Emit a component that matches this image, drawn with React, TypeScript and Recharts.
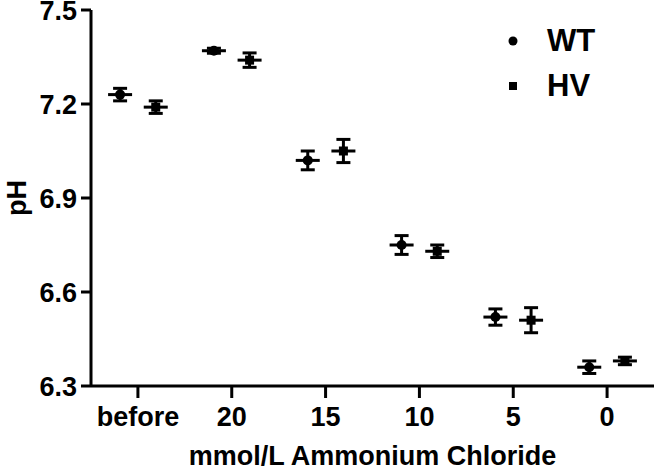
import React from 'react';
import { ScatterChart, Scatter, XAxis, YAxis, ErrorBar, Legend } from 'recharts';

const categories = ['before', '20', '15', '10', '5', '0'];
const wtMean = [7.23, 7.37, 7.02, 6.75, 6.52, 6.36];
const wtSem = [0.02, 0.008, 0.03, 0.03, 0.026, 0.02];
const hvMean = [7.19, 7.34, 7.05, 6.73, 6.51, 6.38];
const hvSem = [0.02, 0.023, 0.037, 0.02, 0.04, 0.012];
const yTicks = [6.3, 6.6, 6.9, 7.2, 7.5];
const seriesNames = ['WT', 'HV'];

const groupOffset = 0.19;
const xTicks = categories.map((_, i) => i);

const wtData = categories.map((c, i) => ({ x: i - groupOffset, y: wtMean[i], err: wtSem[i], cat: c }));
const hvData = categories.map((c, i) => ({ x: i + groupOffset, y: hvMean[i], err: hvSem[i], cat: c }));

const FONT = '"Liberation Sans", Arial, Helvetica, sans-serif';
const textStyle = { fill: '#000', fontSize: 27, fontWeight: 'bold', fontFamily: FONT } as const;

const CircleShape = (props: any) => {
  const { cx, cy } = props;
  return (
    <g>
      <line x1={cx - 12} x2={cx + 12} y1={cy} y2={cy} stroke="#000" strokeWidth={3} />
      <circle cx={cx} cy={cy} r={5} fill="#000" />
    </g>
  );
};

const SquareShape = (props: any) => {
  const { cx, cy } = props;
  return (
    <g>
      <line x1={cx - 12} x2={cx + 12} y1={cy} y2={cy} stroke="#000" strokeWidth={3} />
      <rect x={cx - 4.5} y={cy - 4.5} width={9} height={9} fill="#000" />
    </g>
  );
};

const LegendContent = () => (
  <div style={{ fontFamily: FONT, fontWeight: 'bold', fontSize: 31, color: '#000' }}>
    {seriesNames.map((name, i) => (
      <div key={name} style={{ display: 'flex', alignItems: 'center', height: 45 }}>
        <svg width={16} height={16} style={{ display: 'block' }}>
          {i === 0 ? <circle cx={8} cy={8} r={4.5} fill="#000" /> : <rect x={4} y={4} width={8} height={8} fill="#000" />}
        </svg>
        <span style={{ marginLeft: 26, lineHeight: '45px' }}>{name}</span>
      </div>
    ))}
  </div>
);

export default function App() {
  return (
    <div style={{ position: 'absolute', left: 0, top: 0, width: 655, height: 466, background: '#fff' }}>
      <ScatterChart width={655} height={466} margin={{ top: 10, right: 1, bottom: 0, left: 0 }}>
        <XAxis
          type="number"
          dataKey="x"
          domain={[-0.5, 5.5]}
          ticks={xTicks}
          interval={0}
          allowDataOverflow
          tickFormatter={(v: number) => categories[Math.round(v)]}
          height={80}
          axisLine={{ stroke: '#000', strokeWidth: 3 }}
          tickLine={{ stroke: '#000', strokeWidth: 3 }}
          tickSize={12}
          tickMargin={9}
          tick={textStyle}
          label={{ value: 'mmol/L Ammonium Chloride', position: 'insideBottom', offset: 1, style: textStyle }}
        />
        <YAxis
          type="number"
          dataKey="y"
          domain={[6.3, 7.5]}
          ticks={yTicks}
          interval={0}
          allowDataOverflow
          tickFormatter={(v: number) => v.toFixed(1)}
          width={91}
          axisLine={{ stroke: '#000', strokeWidth: 3 }}
          tickLine={{ stroke: '#000', strokeWidth: 3 }}
          tickSize={10}
          tickMargin={4}
          tick={textStyle}
          label={{ value: 'pH', angle: -90, position: 'insideLeft', offset: 16, style: { ...textStyle, textAnchor: 'middle' } }}
        />
        <Legend
          layout="vertical"
          align="center"
          verticalAlign="middle"
          content={<LegendContent />}
          wrapperStyle={{ position: 'absolute', left: 505, top: 18, width: 'auto', height: 'auto' }}
        />
        <Scatter name="WT" data={wtData} fill="#000" shape={CircleShape} isAnimationActive={false}>
          <ErrorBar dataKey="err" direction="y" width={7} stroke="#000" strokeWidth={3} isAnimationActive={false} />
        </Scatter>
        <Scatter name="HV" data={hvData} fill="#000" shape={SquareShape} isAnimationActive={false}>
          <ErrorBar dataKey="err" direction="y" width={7} stroke="#000" strokeWidth={3} isAnimationActive={false} />
        </Scatter>
      </ScatterChart>
    </div>
  );
}
